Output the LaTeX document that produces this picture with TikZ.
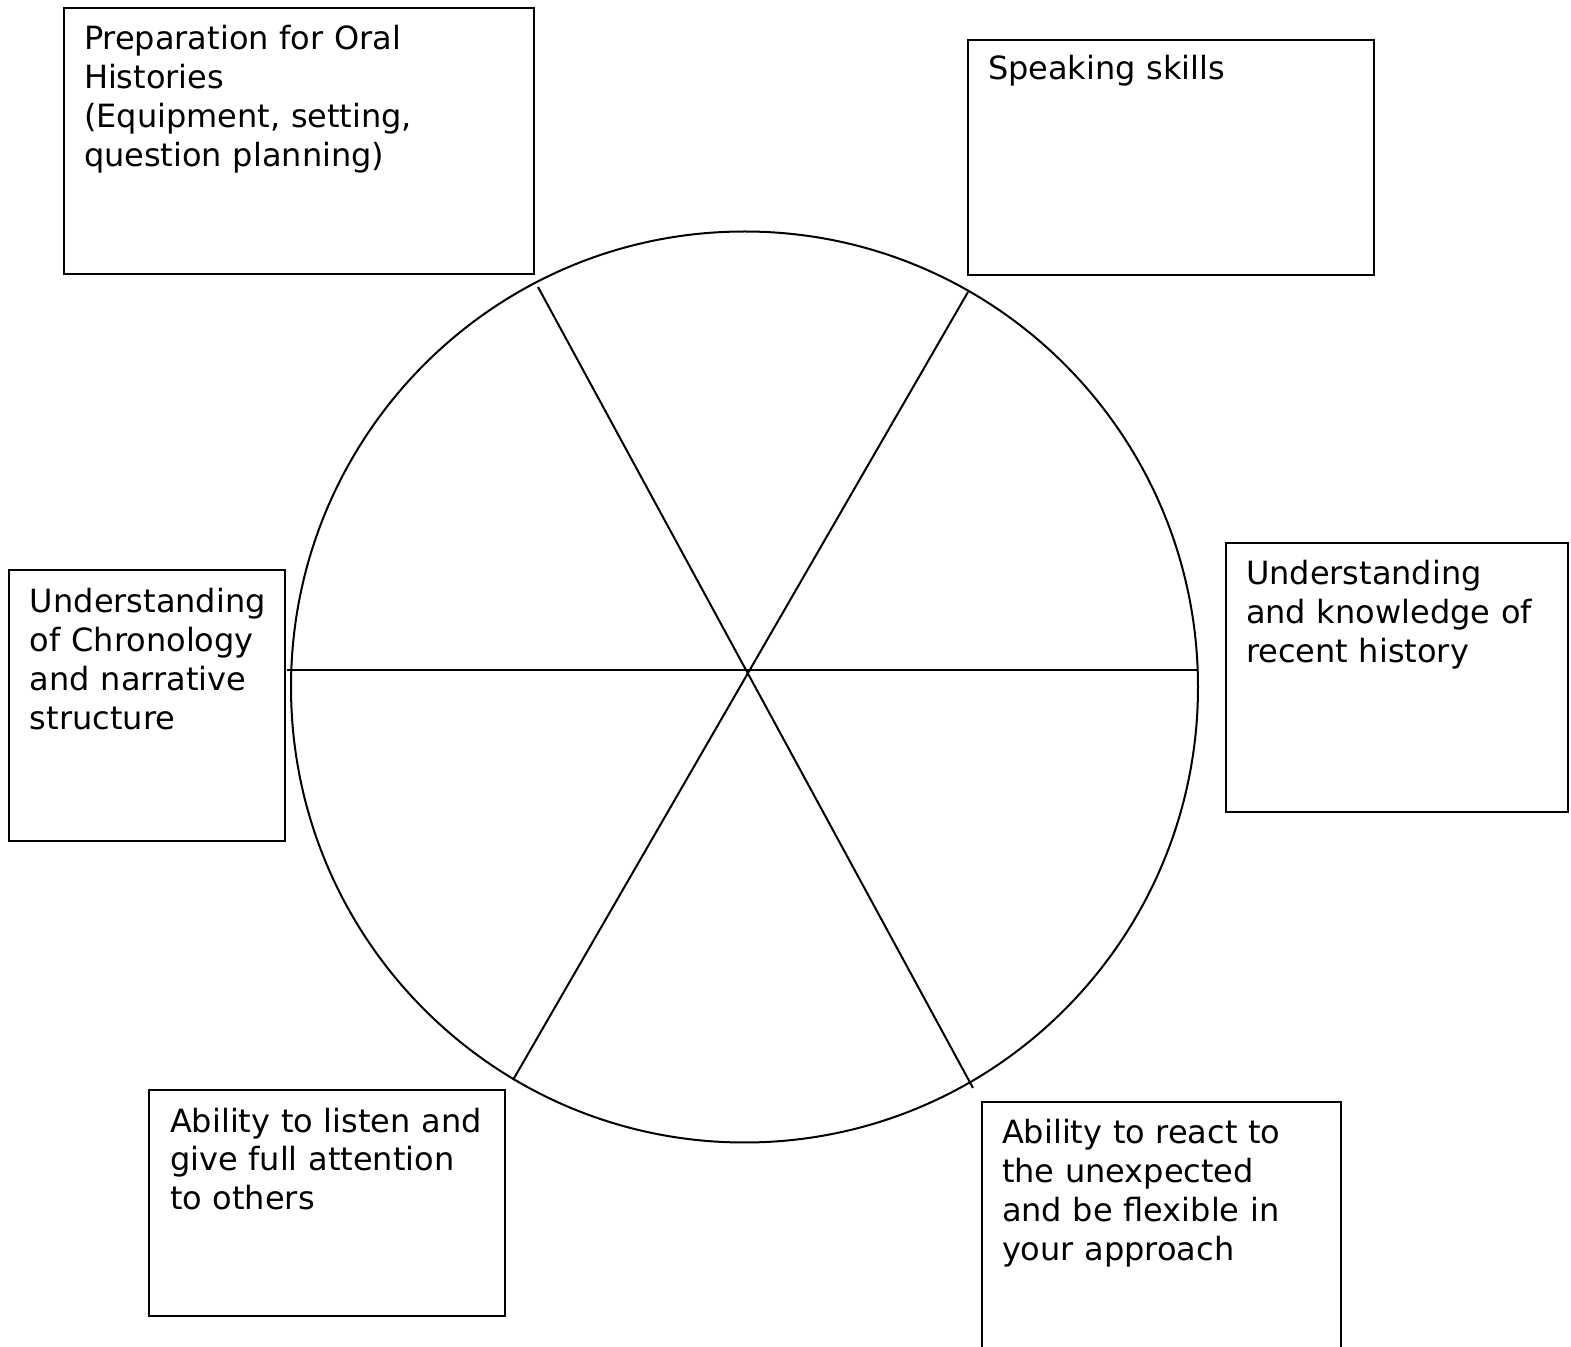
\documentclass[tikz,border=0pt]{standalone}
\usepackage{fontspec}
\setmainfont{DejaVu Sans}
\usetikzlibrary{shapes.geometric}
\begin{document}
\begin{tikzpicture}[x=0.5pt,y=-0.5pt,
  line width=1pt,
  box/.style 2 args={draw=black, line width=1pt, inner sep=0pt, anchor=north west,
    minimum width=#1*0.5pt, minimum height=#2*0.5pt},
  lbl/.style={inner sep=0pt, anchor=base west, align=left, text width=240pt,
    font=\fontsize{16pt}{19.5pt}\selectfont},
  spoke/.style={draw=black, line width=1pt}]
\useasboundingbox (0,0) rectangle (1571,1347);
\clip (0,0) rectangle (1571,1347);
\fill[white] (0,0) rectangle (1571,1347);

% wheel
\node[draw=black, line width=1pt, ellipse, inner sep=0pt, minimum width=907*0.5pt, minimum height=911*0.5pt] (wheel) at (744.5,687) {};
\coordinate (hl) at (287,670);
\coordinate (hr) at (1198,670);
\coordinate (a1) at (538,287);
\coordinate (a2) at (973,1088);
\coordinate (c1) at (968,292);
\coordinate (c2) at (513,1080);
\draw[spoke] (hl) -- (hr);
\draw[spoke] (a1) -- (a2);
\draw[spoke] (c1) -- (c2);

% boxes
\node[box={470}{266}] (b1) at (63,7) {};
\node[box={406}{235}] (b2) at (967,39) {};
\node[box={342}{269}] (b3) at (1225,542) {};
\node[box={276}{271}] (b4) at (8,569) {};
\node[box={356}{226}] (b5) at (148,1089) {};
\node[box={359}{300}] (b6) at (981,1101) {};

% labels
\node[lbl] (t1) at (83,50) {Preparation for Oral\\Histories\\(Equipment, setting,\\question planning)};
\node[lbl] (t2) at (987,80) {Speaking skills};
\node[lbl] (t3) at (1245,585) {Understanding\\and knowledge of\\recent history};
\node[lbl] (t4) at (29,613) {Understanding\\of Chronology\\and narrative\\structure};
\node[lbl] (t5) at (169,1132) {Ability to listen and\\give full attention\\to others};
\node[lbl] (t6) at (1001,1144) {Ability to react to\\the unexpected\\and be flexible in\\your approach};
\end{tikzpicture}
\end{document}
